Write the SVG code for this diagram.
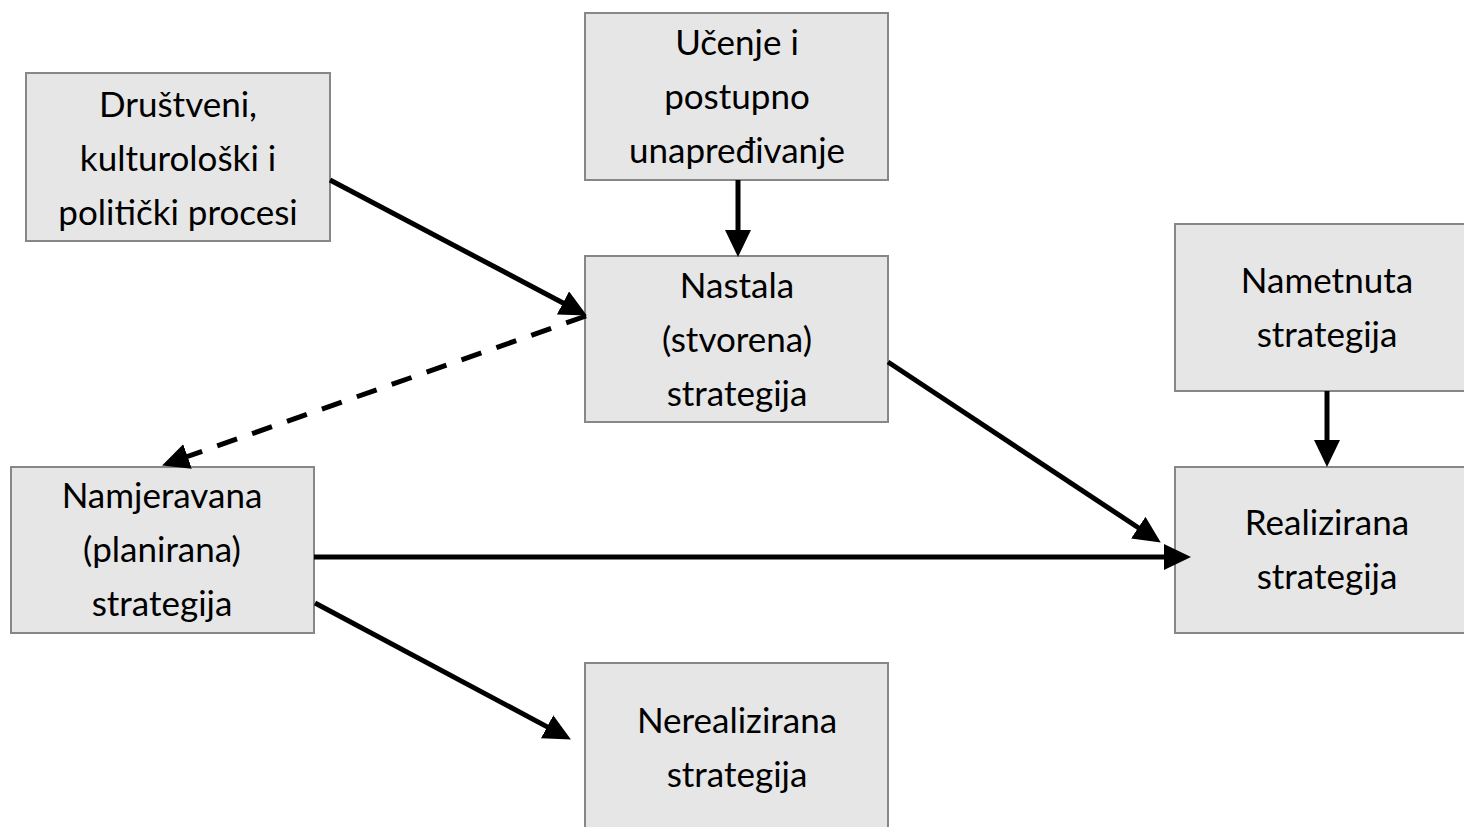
<svg xmlns="http://www.w3.org/2000/svg" width="1464" height="827" viewBox="0 0 1464 827">
  <style>
    .box rect { fill: #e6e6e6; stroke: #878787; stroke-width: 2; }
    .box text { font-family: Lato, "Open Sans", "Liberation Sans", sans-serif; font-size: 35px; fill: #000; text-anchor: middle; }
    .conn line { stroke: #000; stroke-width: 5; fill: none; marker-end: url(#head); }
    .conn line.dashed { stroke-dasharray: 21 16; }
  </style>
  <defs>
    <marker id="head" markerUnits="userSpaceOnUse" markerWidth="28" markerHeight="27" refX="6" refY="13" orient="auto">
      <path d="M0,0 L27,13 L0,26 Z" fill="#000"/>
    </marker>
  </defs>
  <rect width="1464" height="827" fill="#fff"/>

  <g id="drustveni" class="box">
    <rect x="26" y="73" width="304" height="168"/>
    <text x="178" y="117">Društveni,</text>
    <text x="178" y="171">kulturološki i</text>
    <text x="178" y="225">politički procesi</text>
  </g>

  <g id="ucenje" class="box">
    <rect x="585" y="13" width="303" height="167"/>
    <text x="737" y="55">Učenje i</text>
    <text x="737" y="109">postupno</text>
    <text x="737" y="163">unapređivanje</text>
  </g>

  <g id="nastala" class="box">
    <rect x="585" y="256" width="303" height="166"/>
    <text x="737" y="298">Nastala</text>
    <text x="737" y="352">(stvorena)</text>
    <text x="737" y="406">strategija</text>
  </g>

  <g id="nametnuta" class="box">
    <rect x="1175" y="224" width="303" height="167"/>
    <text x="1327" y="293">Nametnuta</text>
    <text x="1327" y="347">strategija</text>
  </g>

  <g id="realizirana" class="box">
    <rect x="1175" y="467" width="303" height="166"/>
    <text x="1327" y="535">Realizirana</text>
    <text x="1327" y="589">strategija</text>
  </g>

  <g id="namjeravana" class="box">
    <rect x="11" y="467" width="303" height="166"/>
    <text x="162" y="508">Namjeravana</text>
    <text x="162" y="562">(planirana)</text>
    <text x="162" y="616">strategija</text>
  </g>

  <g id="nerealizirana" class="box">
    <rect x="585" y="663" width="303" height="180"/>
    <text x="737" y="733">Nerealizirana</text>
    <text x="737" y="787">strategija</text>
  </g>

  <g id="connectors" class="conn">
    <line x1="330" y1="180" x2="568.3" y2="305.7"/>
    <line x1="738" y1="180" x2="738" y2="236"/>
    <line class="dashed" x1="586" y1="316" x2="181.9" y2="458.4"/>
    <line x1="888" y1="362" x2="1143.3" y2="531"/>
    <line x1="314" y1="557" x2="1170" y2="557"/>
    <line x1="1327" y1="391" x2="1327" y2="446"/>
    <line x1="315" y1="603" x2="552.4" y2="729.6"/>
  </g>
</svg>
